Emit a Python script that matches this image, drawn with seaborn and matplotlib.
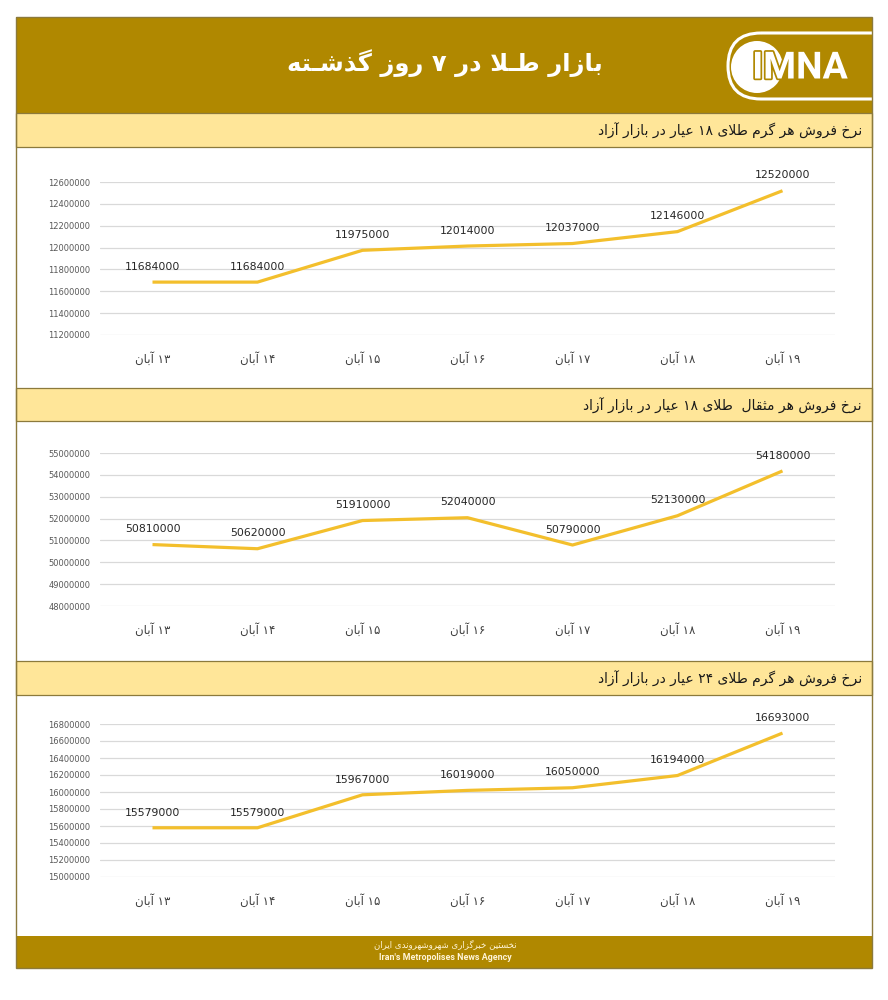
import matplotlib
matplotlib.use("Agg")
import matplotlib.pyplot as plt
import matplotlib.patheffects as pe
from matplotlib.patches import Rectangle, FancyBboxPatch, Circle
import seaborn as sns
import pandas as pd

# ---------------- data ----------------
days = ["۱۳ آبان", "۱۴ آبان", "۱۵ آبان", "۱۶ آبان", "۱۷ آبان", "۱۸ آبان", "۱۹ آبان"]
gram18 = [11684000, 11684000, 11975000, 12014000, 12037000, 12146000, 12520000]
mesghal18 = [50810000, 50620000, 51910000, 52040000, 50790000, 52130000, 54180000]
gram24 = [15579000, 15579000, 15967000, 16019000, 16050000, 16194000, 16693000]

ticks1 = [11200000, 11400000, 11600000, 11800000, 12000000, 12200000, 12400000, 12600000]
ticks2 = [48000000, 49000000, 50000000, 51000000, 52000000, 53000000, 54000000, 55000000]
ticks3 = [15000000, 15200000, 15400000, 15600000, 15800000, 16000000, 16200000,
          16400000, 16600000, 16800000]

title = "بازار طـلا در ۷ روز گذشـته"
sub1 = "نرخ فروش هر گرم طلای ۱۸ عیار در بازار آزاد"
sub2 = "نرخ فروش هر مثقال  طلای ۱۸ عیار در بازار آزاد"
sub3 = "نرخ فروش هر گرم طلای ۲۴ عیار در بازار آزاد"
footer_fa = "نخستین خبرگزاری شهروشهروندی ایران"
footer_en = "Iran's Metropolises News Agency"

# ---------------- minimal Persian shaping ----------------
B = {'ا': (0xFE8D, 2), 'آ': (0xFE81, 2), 'ب': (0xFE8F, 4), 'ت': (0xFE95, 4),
     'ث': (0xFE99, 4), 'ج': (0xFE9D, 4), 'ح': (0xFEA1, 4), 'خ': (0xFEA5, 4),
     'د': (0xFEA9, 2), 'ذ': (0xFEAB, 2), 'ر': (0xFEAD, 2), 'ز': (0xFEAF, 2),
     'س': (0xFEB1, 4), 'ش': (0xFEB5, 4), 'ص': (0xFEB9, 4), 'ض': (0xFEBD, 4),
     'ط': (0xFEC1, 4), 'ظ': (0xFEC5, 4), 'ع': (0xFEC9, 4), 'غ': (0xFECD, 4),
     'ف': (0xFED1, 4), 'ق': (0xFED5, 4), 'ل': (0xFEDD, 4), 'م': (0xFEE1, 4),
     'ن': (0xFEE5, 4), 'ه': (0xFEE9, 4), 'و': (0xFEED, 2), 'ی': (0xFBFC, 4),
     'گ': (0xFB92, 4), 'ک': (0xFB8E, 4), 'پ': (0xFB56, 4), 'چ': (0xFB7A, 4),
     'ژ': (0xFB8A, 2)}
TATWEEL = 'ـ'


def joins_left(c):
    return c == TATWEEL or (c in B and B[c][1] == 4)


def joining(c):
    return c == TATWEEL or c in B


def shape_word(w):
    ch = list(w)
    n = len(ch)
    res = []
    i = 0
    while i < n:
        c = ch[i]
        prev_conn = i > 0 and joins_left(ch[i - 1])
        if c == 'ل' and i + 1 < n and ch[i + 1] in ('ا', 'آ'):
            lig = {'ا': (0xFEFB, 0xFEFC), 'آ': (0xFEF5, 0xFEF6)}[ch[i + 1]]
            res.append(chr(lig[1] if prev_conn else lig[0]))
            i += 2
            continue
        if c not in B:
            res.append(c)
            i += 1
            continue
        base, k = B[c]
        next_conn = k == 4 and i + 1 < n and joining(ch[i + 1])
        if prev_conn and next_conn:
            f = 3
        elif prev_conn:
            f = 1
        elif next_conn:
            f = 2
        else:
            f = 0
        res.append(chr(base + f))
        i += 1
    return res


def fa(s):
    vis = []
    for w in s.split(' '):
        if w and all(x.isdigit() for x in w):
            vis.append(w)
        else:
            vis.append(''.join(reversed(shape_word(w))))
    return ' '.join(reversed(vis))


# ---------------- figure ----------------
sns.set_theme(style="white")
plt.rcParams['font.family'] = ['DejaVu Sans']

W, H = 888, 1000
fig = plt.figure(figsize=(W / 100, H / 100), dpi=100)
fig.patch.set_facecolor('white')

GOLD = '#B08800'
LIGHT = '#FFE699'
EDGE = '#8C7A3C'
LINE = '#F3BF2C'

bg = fig.add_axes([0, 0, 1, 1])
bg.set_xlim(0, W)
bg.set_ylim(H, 0)
bg.axis('off')
bg.set_zorder(-1)

L, R = 16, 872
# header
hdr = Rectangle((L, 17), R - L, 96, facecolor=GOLD, edgecolor='none')
bg.add_patch(hdr)
bg.text(445, 63, fa(title), color='white', fontsize=17.5, fontweight='bold',
        ha='center', va='center')

# logo
rr = FancyBboxPatch((728, 33), 200, 66, boxstyle="round,pad=0,rounding_size=33",
                    facecolor='none', edgecolor='white', linewidth=2.2)
bg.add_patch(rr)
rr.set_clip_path(hdr)
bg.add_patch(Circle((757, 67), 26, facecolor='white', edgecolor='none'))
bg.text(800, 68, "IMNA", color='white', fontsize=27, fontweight='bold',
        family='Roboto', ha='center', va='center',
        path_effects=[pe.withStroke(linewidth=2.5, foreground=GOLD)])

# bands
bands = [(113, 147, sub1), (388, 421, sub2), (661, 695, sub3)]
for top, bot, txt in bands:
    bg.add_patch(Rectangle((L, top), R - L, bot - top, facecolor=LIGHT,
                           edgecolor=EDGE, linewidth=0.9))
    bg.text(862, (top + bot) / 2 + 1, fa(txt), color='#1A1A1A', fontsize=10,
            ha='right', va='center')

# footer
bg.add_patch(Rectangle((L, 936), R - L, 32, facecolor=GOLD, edgecolor='none'))
bg.text(445, 944, fa(footer_fa), color='#FFF4D6', fontsize=6.2, ha='center', va='center')
bg.text(445, 958, footer_en, color='#FFF4D6', fontsize=6.4, fontweight='bold',
        family='Roboto', ha='center', va='center')

# outer border
bg.add_patch(Rectangle((L, 17), R - L, 951, facecolor='none', edgecolor=EDGE, linewidth=1.0))


def px_axes(l, t, r, b):
    return fig.add_axes([l / W, 1 - b / H, (r - l) / W, (b - t) / H])


panels = [
    (gram18, ticks1, 182, 335),
    (mesghal18, ticks2, 453, 606),
    (gram24, ticks3, 724, 877),
]

for vals, ticks, t, b in panels:
    ax = px_axes(100, t, 835, b)
    df = pd.DataFrame({'x': range(len(days)), 'y': vals})
    sns.lineplot(data=df, x='x', y='y', ax=ax, color=LINE, linewidth=2.3,
                 solid_capstyle='butt', zorder=3)
    ax.set_xlim(-0.5, len(days) - 0.5)
    ax.set_ylim(ticks[0], ticks[-1])
    ax.set_yticks(ticks)
    ax.set_yticklabels([str(v) for v in ticks], color='#595959', fontsize=6)
    ax.set_xticks(range(len(days)))
    ax.set_xticklabels([fa(d) for d in days], color='#404040', fontsize=8.5)
    ax.tick_params(axis='both', length=0)
    ax.tick_params(axis='x', pad=12)
    ax.tick_params(axis='y', pad=7)
    ax.grid(axis='y', color='#D9D9D9', linewidth=0.9)
    ax.grid(axis='x', visible=False)
    ax.set_facecolor('none')
    for s in ax.spines.values():
        s.set_visible(False)
    ax.set_xlabel('')
    ax.set_ylabel('')
    for i, v in enumerate(vals):
        ax.annotate(str(v), (i, v), xytext=(0, 11), textcoords='offset points',
                    ha='center', va='center', fontsize=7.8, color='#262626',
                    annotation_clip=False)

fig.savefig('out.png', dpi=100)
